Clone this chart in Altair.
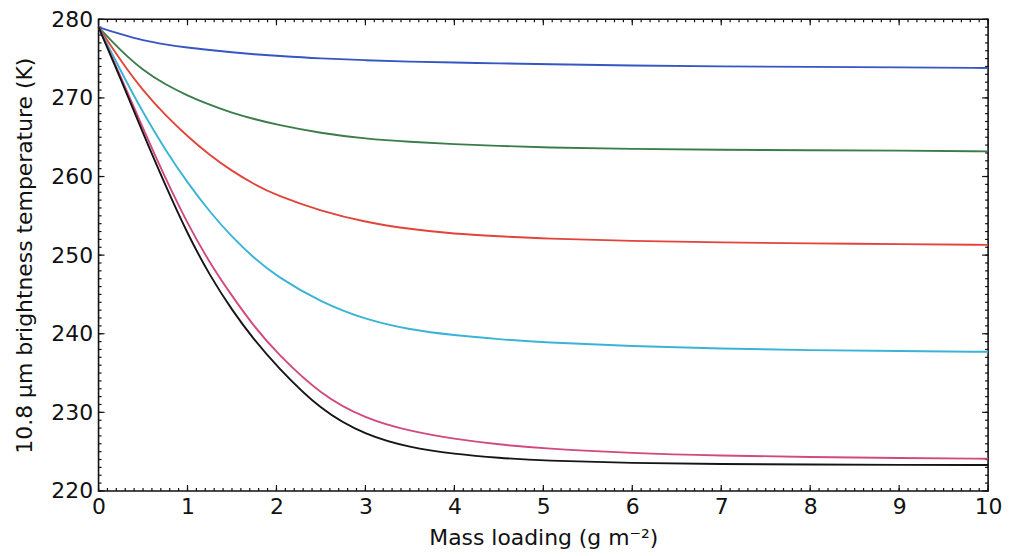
import altair as alt
import numpy as np
import pandas as pd

mass = [0, 0.25, 0.5, 0.75, 1, 1.25, 1.5, 1.75, 2, 2.5, 3, 3.5, 4, 4.5, 5, 6, 7, 8, 9, 10]

blue = [279.0, 278.1, 277.3, 276.8, 276.4, 276.1, 275.8, 275.55, 275.35, 275.0,
        274.8, 274.6, 274.5, 274.4, 274.3, 274.1, 274.0, 273.95, 273.9, 273.8]
green = [279.0, 276.0, 273.5, 271.7, 270.3, 269.1, 268.1, 267.3, 266.6, 265.5,
         264.8, 264.4, 264.1, 263.9, 263.7, 263.5, 263.4, 263.35, 263.3, 263.2]
red = [279.0, 274.7, 270.9, 267.8, 265.1, 262.7, 260.7, 259.0, 257.6, 255.6,
       254.2, 253.3, 252.7, 252.4, 252.1, 251.8, 251.6, 251.5, 251.4, 251.3]
cyan = [279.0, 273.4, 268.1, 263.4, 259.2, 255.5, 252.3, 249.6, 247.3, 244.0,
        241.8, 240.5, 239.8, 239.3, 238.9, 238.4, 238.1, 237.9, 237.8, 237.7]
magenta = [279.0, 272.7, 266.1, 259.8, 254.0, 249.0, 244.8, 240.9, 237.6, 232.2,
           229.2, 227.6, 226.6, 225.9, 225.4, 224.8, 224.5, 224.3, 224.2, 224.1]
black = [279.0, 272.4, 265.5, 258.9, 252.7, 247.4, 243.0, 239.2, 235.9, 230.2,
         227.1, 225.5, 224.7, 224.2, 223.85, 223.55, 223.42, 223.36, 223.32, 223.3]

series_names = ["blue", "green", "red", "cyan", "magenta", "black"]
series_values = [blue, green, red, cyan, magenta, black]
series_colors = ["#3556c4", "#3b7d4a", "#e2443c", "#3ab4d6", "#d2497f", "#151515"]

x_major = list(range(0, 11))
x_minor = [round(v, 2) for v in np.arange(0, 10.001, 0.1)]
y_major = list(range(220, 281, 10))
y_minor = list(range(220, 281, 1))

rows = []
for name, vals in zip(series_names, series_values):
    for m, t in zip(mass, vals):
        rows.append({"mass": m, "temp": t, "series": name})
df = pd.DataFrame(rows)

W, H = 894, 474
FONT = "DejaVu Sans"
FS = 22

xscale = alt.Scale(domain=[0, 10], nice=False, zero=False)
yscale = alt.Scale(domain=[220, 280], nice=False, zero=False)

lines = alt.Chart(df).mark_line(strokeWidth=1.9, interpolate="basis").encode(
    x=alt.X("mass:Q", scale=xscale,
            axis=alt.Axis(title="Mass loading (g m\u207b\u00b2)", values=x_major, format="d",
                          domain=False, ticks=False, grid=False, labelPadding=6,
                          labelFontSize=FS, titleFontSize=FS, titlePadding=10,
                          labelFont=FONT, titleFont=FONT, labelColor="#111",
                          titleColor="#111", titleFontWeight="normal",
                          labelFlush=False, labelOverlap=False)),
    y=alt.Y("temp:Q", scale=yscale,
            axis=alt.Axis(title="10.8 \u03bcm brightness temperature (K)", values=y_major,
                          format="d",
                          domain=False, ticks=False, grid=False, labelPadding=6,
                          labelFontSize=FS, titleFontSize=FS, titlePadding=14,
                          labelFont=FONT, titleFont=FONT, labelColor="#111",
                          titleColor="#111", titleFontWeight="normal",
                          labelFlush=False, labelOverlap=False)),
    color=alt.Color("series:N", scale=alt.Scale(domain=series_names, range=series_colors),
                    legend=None),
    detail="series:N",
)

def xticks(vals, length):
    d = pd.DataFrame({"v": vals})
    bottom = alt.Chart(d).mark_rule(color="#111", strokeWidth=1.2).encode(
        x=alt.X("v:Q", scale=xscale), y=alt.value(H), y2=alt.value(H - length))
    top = alt.Chart(d).mark_rule(color="#111", strokeWidth=1.2).encode(
        x=alt.X("v:Q", scale=xscale), y=alt.value(0), y2=alt.value(length))
    return bottom + top

def yticks(vals, length):
    d = pd.DataFrame({"v": vals})
    left = alt.Chart(d).mark_rule(color="#111", strokeWidth=1.2).encode(
        y=alt.Y("v:Q", scale=yscale), x=alt.value(0), x2=alt.value(length))
    right = alt.Chart(d).mark_rule(color="#111", strokeWidth=1.2).encode(
        y=alt.Y("v:Q", scale=yscale), x=alt.value(W), x2=alt.value(W - length))
    return left + right

chart = alt.layer(
    xticks(x_minor, 3), xticks(x_major, 6),
    yticks(y_minor, 3), yticks(y_major, 6),
    lines,
).properties(
    width=W, height=H,
    autosize=alt.AutoSizeParams(type="none"),
    padding={"left": 91, "top": 10, "right": 20, "bottom": 62},
).configure_view(
    stroke="#111", strokeWidth=1.6
)

chart.save("out.html", embed_options={"renderer": "svg", "actions": False})
